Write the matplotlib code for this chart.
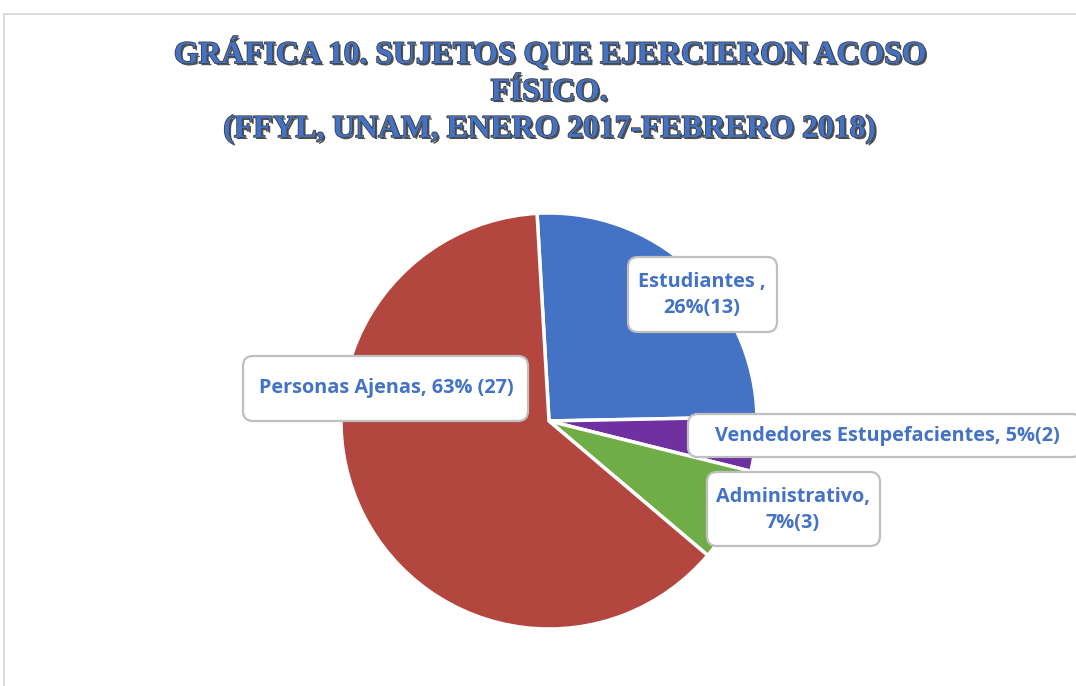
import matplotlib
matplotlib.use("Agg")
import matplotlib.pyplot as plt
import matplotlib.patheffects as pe
from matplotlib.patches import Rectangle, FancyBboxPatch

# Data
categories = ["Estudiantes", "Vendedores Estupefacientes", "Administrativo", "Personas Ajenas"]
shares = [25.6, 4.2, 7.3, 62.9]
colors = ["#4472C4", "#7030A0", "#70AD47", "#B3463F"]
label_texts = [
    "Estudiantes ,\n26%(13)",
    "Vendedores Estupefacientes, 5%(2)",
    "Administrativo,\n7%(3)",
    "Personas Ajenas, 63% (27)",
]
title = "GRÁFICA 10. SUJETOS QUE EJERCIERON ACOSO\nFÍSICO.\n(FFYL, UNAM, ENERO 2017-FEBRERO 2018)"

W, H = 1076, 686
fig = plt.figure(figsize=(W / 100, H / 100), dpi=100)


def px(x, y):
    return x / W, 1 - y / H


# chart area border (light gray, runs off the right/bottom edges)
fig.patches.append(Rectangle(px(4, 700), (W + 20) / W, (700 - 14) / H,
                             transform=fig.transFigure, fill=False,
                             edgecolor="#D9D9D9", linewidth=1.3))

# pie axes: centre (549, 421), radius 208 px
cx, cy, r = 549, 421, 208
ax = fig.add_axes([(cx - r) / W, (H - cy - r) / H, 2 * r / W, 2 * r / H])
ax.pie(shares, colors=colors, startangle=93.3, counterclock=False,
       wedgeprops=dict(edgecolor="white", linewidth=2.5))
ax.set_xlim(-1, 1)
ax.set_ylim(-1, 1)
ax.axis("off")

# title
fig.text(*px(549, 91), title, ha="center", va="center", fontsize=22.8,
         family="Liberation Serif", fontweight="bold", color="#4472C4",
         linespacing=1.36,
         path_effects=[pe.SimplePatchShadow(offset=(1.5, -1.5), shadow_rgbFace="#3F3F3F", alpha=0.9),
                       pe.Stroke(linewidth=1.2, foreground="#404040"),
                       pe.Normal()])

# data labels: boxes (left, top, right, bottom in px) and text centres
label_boxes = [(628, 257, 777, 332), (688, 414, 1082, 457),
               (707, 472, 880, 546), (243, 356, 528, 421)]
label_pos = [(702, 295), (887, 436), (793, 510), (386, 388)]
for txt, (x0, y0, x1, y1), (x, y) in zip(label_texts, label_boxes, label_pos):
    fig.patches.append(FancyBboxPatch((x0, H - y1), x1 - x0, y1 - y0,
                                      boxstyle="round,pad=0,rounding_size=10",
                                      transform=None, facecolor="white",
                                      edgecolor="#BFBFBF", linewidth=1.6))
    fig.text(*px(x, y), txt, ha="center", va="center", fontsize=14.3,
             family="Open Sans", fontweight="bold", color="#4472C4",
             linespacing=1.45)

fig.savefig("out.png", dpi=100)
